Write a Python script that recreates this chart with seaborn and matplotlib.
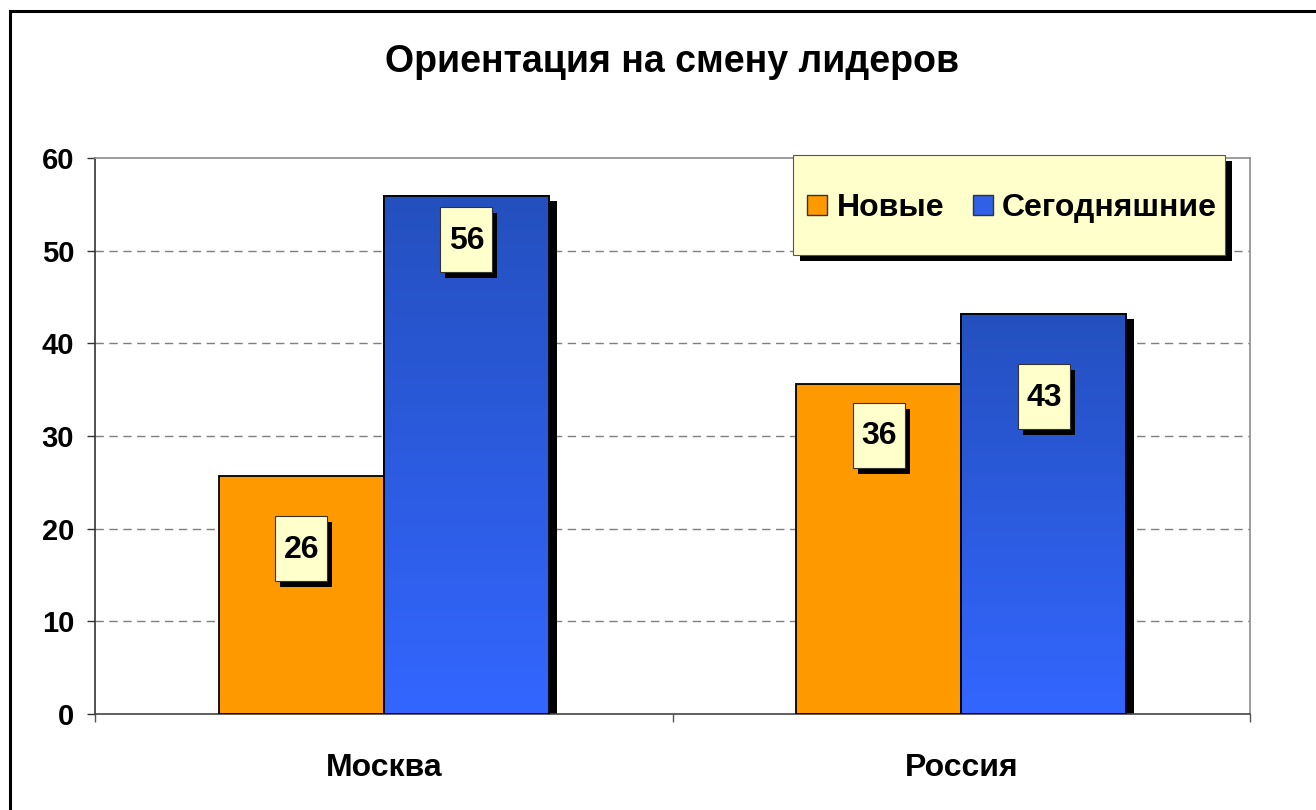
import numpy as np
import pandas as pd
import seaborn as sns
import matplotlib.pyplot as plt
from matplotlib.patches import Rectangle, Patch
from matplotlib.colors import LinearSegmentedColormap

# data
cities = ["Москва", "Россия"]
series = ["Новые", "Сегодняшние"]
new_vals = [25.7, 35.6]
cur_vals = [55.9, 43.2]
new_labels = ["26", "36"]
cur_labels = ["56", "43"]
yticks = [0, 10, 20, 30, 40, 50, 60]

# how far below the bar top each label box sits (pixels)
label_drop = {"Новые": [73, 51], "Сегодняшние": [44, 83]}

df = pd.DataFrame({
    "city": cities * 2,
    "series": [series[0]] * 2 + [series[1]] * 2,
    "value": new_vals + cur_vals,
    "label": new_labels + cur_labels,
})

sns.set_style("white")
plt.rcParams["font.family"] = ["Liberation Sans", "DejaVu Sans"]
plt.rcParams["font.weight"] = "bold"
plt.rcParams["text.color"] = "black"
plt.rcParams["xtick.labelcolor"] = "black"
plt.rcParams["ytick.labelcolor"] = "black"

orange = "#FF9900"
blue_top, blue_bot = "#2450BE", "#3366FF"
blue_cmap = LinearSegmentedColormap.from_list("bl", [blue_bot, blue_top])

fig = plt.figure(figsize=(13.16, 8.10), dpi=100)
ax = fig.add_axes([95 / 1316, 96 / 810, 1155 / 1316, 556 / 810])

sns.barplot(data=df, x="city", y="value", hue="series", order=cities,
            hue_order=series, palette=[orange, blue_bot], saturation=1,
            width=0.572, edgecolor="black", linewidth=1.3, ax=ax,
            legend=False, zorder=3)

ax.set_xlim(-0.5, 1.5)
ax.set_ylim(0, 60)

# pixels per data unit
px_x = 1155 / 2.0
px_y = 556 / 60.0

for cont, name in zip(ax.containers, series):
    for i, bar in enumerate(cont.patches):
        x0, w, h = bar.get_x(), bar.get_width(), bar.get_height()
        # drop shadow
        ax.add_patch(Rectangle((x0 + 8 / px_x, -1), w, h + 1 - 5 / px_y,
                               facecolor="black", edgecolor="none", zorder=2))
        if name == series[1]:
            grad = np.linspace(0, 1, 256).reshape(-1, 1)
            ax.imshow(grad, cmap=blue_cmap, origin="lower", aspect="auto",
                      extent=[x0, x0 + w, 0, h], zorder=3.1,
                      interpolation="bicubic")
            ax.add_patch(Rectangle((x0, 0), w, h, fill=False,
                                   edgecolor="black", linewidth=1.3, zorder=3.2))
        # value label box with shadow
        lab = df[(df.series == name) & (df.city == cities[i])]["label"].iloc[0]
        cx = x0 + w / 2
        cy = h - label_drop[name][i] / px_y
        bw, bh = 52 / px_x, 65 / px_y
        ax.add_patch(Rectangle((cx - bw / 2 + 5 / px_x, cy - bh / 2 - 6 / px_y), bw, bh,
                               facecolor="black", edgecolor="none", zorder=4))
        ax.add_patch(Rectangle((cx - bw / 2, cy - bh / 2), bw, bh,
                               facecolor="#FFFFCC", edgecolor="#333333",
                               linewidth=0.8, zorder=5))
        ax.text(cx, cy - 1 / px_y, lab, ha="center", va="center", fontsize=23,
                fontweight="bold", color="black", zorder=6)

ax.set_xlim(-0.5, 1.5)
ax.set_ylim(0, 60)

# grid and spines
for v in yticks[1:-1]:
    ax.axhline(v, color="#7F7F7F", linestyle=(0, (6, 4)), linewidth=1.0, zorder=1)
for s in ["top", "right"]:
    ax.spines[s].set_color("#8C8C8C")
    ax.spines[s].set_linewidth(1.2)
ax.spines["left"].set_color("#333333")
ax.spines["bottom"].set_color("#444444")
ax.spines["left"].set_linewidth(1.2)
ax.spines["bottom"].set_linewidth(1.2)

ax.set_yticks(yticks)
ax.set_yticklabels([str(t) for t in yticks], fontsize=21, fontweight="bold")
ax.tick_params(axis="y", direction="out", length=6, width=1, color="#333333",
               pad=9, left=True)
ax.set_xticks([0, 1])
ax.set_xticklabels(cities, fontsize=23, fontweight="bold")
ax.set_xticks([-0.5, 0.5, 1.5], minor=True)
ax.tick_params(axis="x", which="major", length=0, pad=28)
ax.tick_params(axis="x", which="minor", direction="out", length=6,
               width=1, color="#555555", bottom=True)
ax.set_xlabel("")
ax.set_ylabel("")

# legend box with shadow
lx, ly, lw, lh = 0.604, 0.826, 0.374, 0.179
ax.add_patch(Rectangle((lx + 7 / 1155, ly - 6 / 556), lw, lh, transform=ax.transAxes,
                       facecolor="black", edgecolor="none", clip_on=False, zorder=7))
ax.add_patch(Rectangle((lx, ly), lw, lh, transform=ax.transAxes,
                       facecolor="#FFFFCC", edgecolor="#555555", linewidth=0.8,
                       clip_on=False, zorder=8))
handles = [Patch(facecolor=orange, edgecolor="#333333", linewidth=1),
           Patch(facecolor="#3060E8", edgecolor="#333333", linewidth=1)]
leg = ax.legend(handles, series, loc="center",
                bbox_to_anchor=(lx + lw / 2 + 0.003, ly + lh / 2 - 0.006),
                ncol=2, frameon=False, handlelength=0.62, handleheight=0.62,
                handletextpad=0.3, columnspacing=0.9,
                prop={"weight": "bold", "size": 23})
leg.set_zorder(9)

fig.text(672 / 1316, 1 - 62 / 810, "Ориентация на смену лидеров", ha="center",
         va="center", fontsize=27, fontweight="bold", color="black")

# outer frame
fig.patches.append(Rectangle((10 / 1316, -0.5), 2, 1.5 - 11 / 810, transform=fig.transFigure,
                             fill=False, edgecolor="black", linewidth=2.2))

fig.savefig("out.png", dpi=100)
